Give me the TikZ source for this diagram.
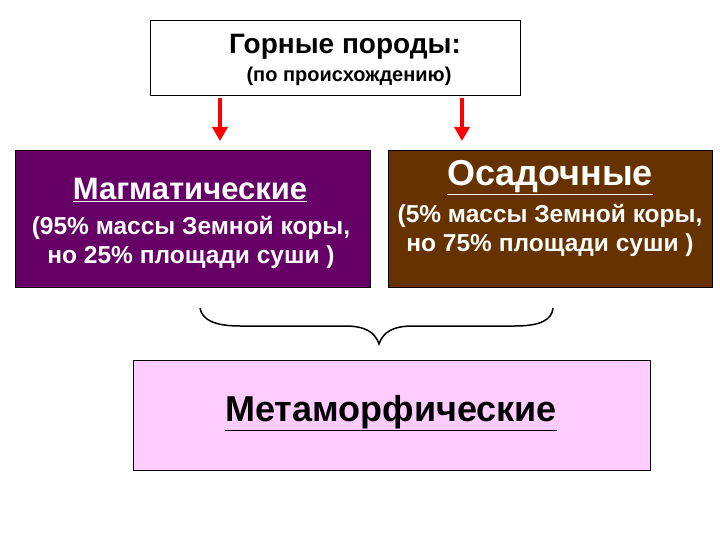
\documentclass[tikz,border=0pt]{standalone}
\usepackage{fontspec}
\setmainfont{Liberation Sans}
\usetikzlibrary{arrows.meta}
\definecolor{magm}{HTML}{660066}
\definecolor{osad}{HTML}{663300}
\definecolor{meta}{HTML}{FFCCFF}
\tikzset{box/.style={draw=black,line width=0.8pt,inner sep=0pt},
redarr/.style={draw=red,line width=4pt,-{Triangle[width=15pt,length=14pt]},red},
lbl/.style={font=\bfseries,align=center}}
\begin{document}
\begin{tikzpicture}[x=1pt,y=-1pt]
\useasboundingbox (0,0) rectangle (720,540);
\node[box,fill=white,minimum width=370,minimum height=75] (top) at (335,57.5) {};
\node[lbl,font=\bfseries\fontsize{28}{30}\selectfont] (t1) at (345,47) {Горные породы:};
\node[lbl,font=\bfseries\fontsize{20}{22}\selectfont] (t2) at (349,76) {(по происхождению)};
\node[box,fill=magm,minimum width=355,minimum height=137] (mag) at (192.5,218.5) {};
\node[box,fill=osad,minimum width=324,minimum height=137] (osa) at (550,218.5) {};
\node[box,fill=meta,minimum width=517,minimum height=110] (met) at (391.5,415) {};
\coordinate (a1s) at (220,98); \coordinate (a1e) at (220,141);
\coordinate (a2s) at (462,98); \coordinate (a2e) at (462,141);
\draw[redarr] (a1s) -- (a1e);
\draw[redarr] (a2s) -- (a2e);
\node[lbl,text=white,font=\bfseries\fontsize{31}{33}\selectfont] (m1) at (190,190) {\underline{Магматические}};
\node[lbl,text=white,font=\bfseries\fontsize{24.5}{29}\selectfont] (m2) at (191,242) {(95\% массы Земной коры,\\но 25\% площади суши )};
\node[lbl,text=white,font=\bfseries\fontsize{36}{38}\selectfont] (o1) at (550,178) {\underline{Осадочные}};
\node[lbl,text=white,font=\bfseries\fontsize{24.5}{29}\selectfont] (o2) at (550,230) {(5\% массы Земной коры,\\но 75\% площади суши )};
\node[lbl,font=\bfseries\fontsize{36}{38}\selectfont] (mt) at (391,413) {\underline{Метаморфические}};
\coordinate (bl) at (200,308); \coordinate (br) at (553,308); \coordinate (bc) at (379,344);
\draw[line width=1.5pt] (bl) .. controls (202,320) and (215,326) .. (240,326) -- (345,326) .. controls (365,326) and (375,332) .. (bc)
 .. controls (383,332) and (393,326) .. (413,326) -- (515,326) .. controls (540,326) and (552,320) .. (br);
\end{tikzpicture}
\end{document}
